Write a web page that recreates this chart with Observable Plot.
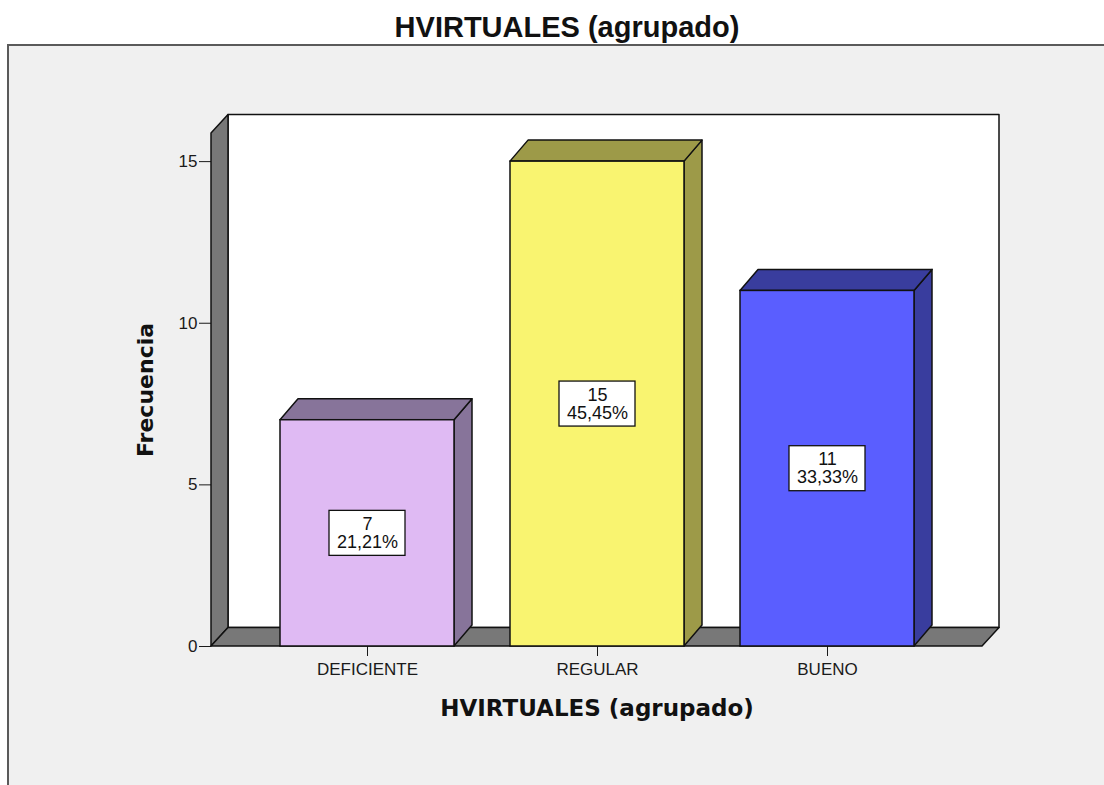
<!DOCTYPE html>
<html>
<head>
<meta charset="utf-8">
<script src="https://cdn.jsdelivr.net/npm/d3@7"></script>
<script src="https://cdn.jsdelivr.net/npm/@observablehq/plot@0.6"></script>
<style>
  html, body { margin: 0; padding: 0; background: #ffffff; }
  body { width: 1104px; height: 785px; overflow: hidden; position: relative; }
  #title { position: absolute; left: 0; top: 11px; width: 1134px; text-align: center;
           font: bold 29px "Liberation Sans", Arial, sans-serif; line-height: 32px; color: #111; }
  #panel { position: absolute; left: 7px; top: 44px; width: 1097px; height: 741px; box-sizing: border-box;
           background: #f0f0f0; border-top: 2px solid #5a5a5a; border-left: 2px solid #5a5a5a; }
  #panel svg { display: block; }
</style>
</head>
<body>
<div id="title">HVIRTUALES (agrupado)</div>
<div id="panel"></div>
<script>
// ---- data ----
const categories = ["DEFICIENTE", "REGULAR", "BUENO"];
const counts = [7, 15, 11];
const percentLabels = ["21,21%", "45,45%", "33,33%"];
const yTicks = [0, 5, 10, 15];
const frontColors = ["#dfbaf3", "#f9f470", "#5a5eff"];
const sideColors = ["#87749a", "#9d9a48", "#393d9e"];
const yMax = 15.87;           // top of the 3D walls
const xTitle = "HVIRTUALES (agrupado)";
const yTitle = "Frecuencia";

const rows = categories.map((c, i) => ({cat: c, n: counts[i], pct: percentLabels[i]}));

// depth offsets (pixels) for the pseudo-3D look
const WDX = 17, WDY = 18.5;   // walls
const BDX = 18, BDY = 21;     // bars
const EDGE = "#111";

function polygon(g, pts, fill) {
  g.append("path")
    .attr("d", "M" + pts.map(p => p.join(",")).join("L") + "Z")
    .attr("fill", fill)
    .attr("stroke", EDGE)
    .attr("stroke-width", 1.5)
    .attr("stroke-linejoin", "round");
}

// back wall, left wall, floor
function walls(index, scales, values, dims) {
  const {y} = scales;
  const g = d3.create("svg:g");
  const xl = dims.marginLeft, xr = dims.width - dims.marginRight;
  const yb = y(0), yt = y(yMax);
  polygon(g, [[xl + WDX, yt - WDY], [xr + WDX, yt - WDY], [xr + WDX, yb - WDY], [xl + WDX, yb - WDY]], "#ffffff");
  polygon(g, [[xl, yb], [xl, yt], [xl + WDX, yt - WDY], [xl + WDX, yb - WDY]], "#787878");
  polygon(g, [[xl, yb], [xr, yb], [xr + WDX, yb - WDY], [xl + WDX, yb - WDY]], "#787878");
  return g.node();
}

// side and top faces of the bars
function barDepth(index, scales) {
  const {x, y} = scales;
  const g = d3.create("svg:g");
  const bw = x.bandwidth();
  rows.forEach((d, i) => {
    const x1 = x(d.cat), x2 = x1 + bw, yv = y(d.n), y0 = y(0);
    polygon(g, [[x2, y0], [x2, yv], [x2 + BDX, yv - BDY], [x2 + BDX, y0 - BDY]], sideColors[i]);
    polygon(g, [[x1, yv], [x2, yv], [x2 + BDX, yv - BDY], [x1 + BDX, yv - BDY]], sideColors[i]);
  });
  return g.node();
}

// white boxes behind the value labels
function labelBoxes(index, scales) {
  const {x, y} = scales;
  const g = d3.create("svg:g");
  const bw = x.bandwidth();
  const W = 76, H = 45;
  rows.forEach(d => {
    const cx = x(d.cat) + bw / 2, cy = y(d.n / 2);
    g.append("rect")
      .attr("x", cx - W / 2).attr("y", cy - H / 2)
      .attr("width", W).attr("height", H)
      .attr("fill", "#ffffff").attr("stroke", EDGE).attr("stroke-width", 1.3);
  });
  return g.node();
}

const chart = Plot.plot({
  width: 1095,
  height: 739,
  marginLeft: 202,
  marginRight: 122,
  marginTop: 87,
  marginBottom: 139,
  style: {background: "transparent", fontFamily: "'Liberation Sans', Arial, sans-serif", fontSize: "17px", color: "#1a1a1a"},
  x: {domain: categories, paddingInner: 0.245, paddingOuter: 0.293, tickSize: 10, tickPadding: 6, label: null},
  y: {domain: [0, yMax], ticks: yTicks, tickSize: 12, tickPadding: 2, label: null},
  color: {domain: categories, range: frontColors},
  marks: [
    walls,
    barDepth,
    Plot.barY(rows, {x: "cat", y: "n", fill: "cat", stroke: EDGE, strokeWidth: 1.5, inset: 0}),
    labelBoxes,
    Plot.text(rows, {x: "cat", y: d => d.n / 2, text: d => `${d.n}\n${d.pct}`,
      fontSize: 18, lineHeight: 1, fill: "#111", fontFamily: "'Liberation Sans', Arial, sans-serif"}),
    Plot.text([xTitle], {frameAnchor: "bottom", dy: 62, lineAnchor: "middle", fontSize: 23, fontWeight: "bold",
      fontFamily: "'DejaVu Sans', Verdana, sans-serif", fill: "#111"}),
    Plot.text([yTitle], {frameAnchor: "left", rotate: -90, dx: -66, textAnchor: "middle", lineAnchor: "middle", fontSize: 22, fontWeight: "bold",
      fontFamily: "'DejaVu Sans', Verdana, sans-serif", fill: "#111"})
  ]
});
document.getElementById("panel").appendChild(chart);
</script>
</body>
</html>
